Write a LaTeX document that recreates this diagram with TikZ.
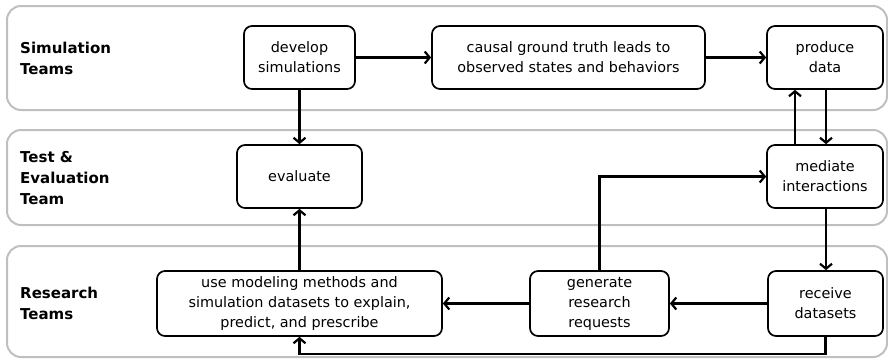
\documentclass[tikz,border=0pt]{standalone}
\usepackage{fontspec}
\setmainfont{DejaVu Sans}
\usetikzlibrary{arrows.meta}
\begin{document}
\begin{tikzpicture}[x=1pt,y=-1pt,
  lane/.style={draw=black!25, line width=2pt, rounded corners=14pt},
  box/.style={draw, line width=1.7pt, rounded corners=8pt, align=center, inner sep=0pt,
    font=\fontsize{14.4}{20}\selectfont},
  arr/.style={-{Straight Barb[length=5pt,width=12pt]}, line width=2.2pt},
  lbl/.style={font=\bfseries\fontsize{15}{21}\selectfont, align=left, anchor=west, inner sep=0pt}]
\useasboundingbox (0,0) rectangle (888,360);
% lanes
\draw[lane] (7,6) rectangle (887,110);
\draw[lane] (7,130) rectangle (887,225);
\draw[lane] (7,246) rectangle (887,357);
\node[lbl] (l1) at (20,58) {Simulation\\Teams};
\node[lbl] (l2) at (20,178) {Test \&\\Evaluation\\Team};
\node[lbl] (l3) at (20,303) {Research\\Teams};
% boxes
\node[box, minimum width=111pt, minimum height=63pt] (dev) at (299.5,57.5) {develop\\simulations};
\node[box, minimum width=273pt, minimum height=63pt] (causal) at (568.5,57.5) {causal ground truth leads to\\observed states and behaviors};
\node[box, minimum width=116pt, minimum height=63pt] (prod) at (825,57.5) {produce\\data};
\node[box, minimum width=125pt, minimum height=63pt] (eval) at (299.5,176.5) {evaluate};
\node[box, minimum width=116pt, minimum height=63pt] (med) at (825,176.5) {mediate\\interactions};
\node[box, minimum width=285pt, minimum height=65pt] (use) at (299.5,303.5) {use modeling methods and\\simulation datasets to explain,\\predict, and prescribe};
\node[box, minimum width=139pt, minimum height=65pt] (gen) at (599.5,303.5) {generate\\research\\requests};
\node[box, minimum width=115pt, minimum height=65pt] (rec) at (825.5,303.5) {receive\\datasets};
% arrows
\draw[arr] (dev) -- (causal);
\draw[arr] (causal) -- (prod);
\draw[arr] (dev) -- (eval);
\draw[arr] ([xshift=1pt]prod.south) -- ([xshift=1pt]med.north);
\draw[arr] ([xshift=-30pt]med.north) -- ([xshift=-30pt]prod.south);
\draw[arr] (gen.north) |- (med.west);
\draw[arr] ([xshift=1pt]med.south) -- ([xshift=0.5pt]rec.north);
\draw[arr] (rec) -- (gen);
\draw[arr] (gen) -- (use);
\draw[arr] (use) -- (eval);
\draw[arr] (rec.south) -- ++(0,17) coordinate (c1) -| (use.south);
\end{tikzpicture}
\end{document}
